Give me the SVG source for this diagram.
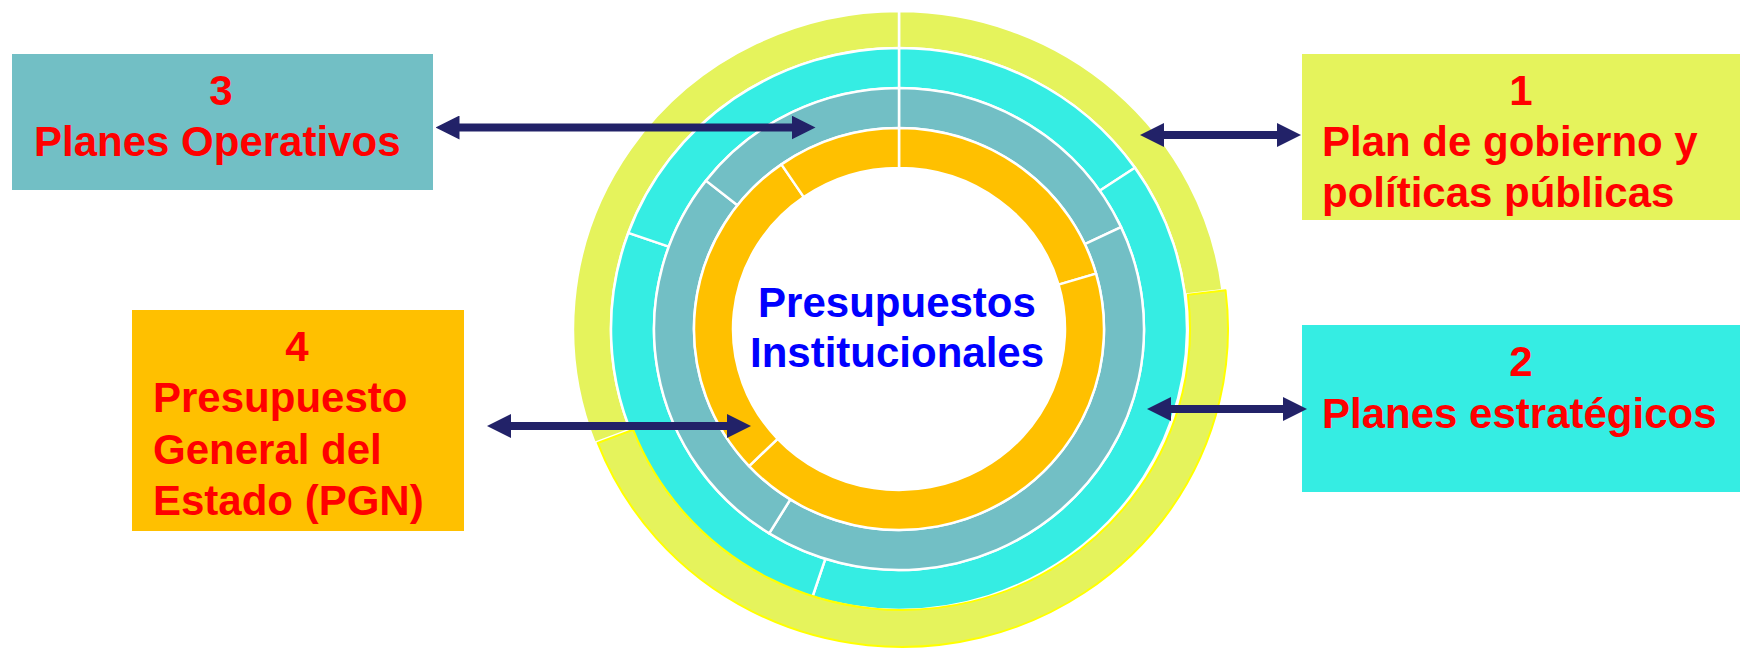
<svg xmlns="http://www.w3.org/2000/svg" width="1740" height="650" viewBox="0 0 1740 650">
<defs>
<style>
.lbl{font-family:"Liberation Sans",Arial,sans-serif;font-weight:bold;font-size:42px;fill:#FF0000}
.ctr{font-family:"Liberation Sans",Arial,sans-serif;font-weight:bold;font-size:42px;fill:#0000FF;text-anchor:middle}
.mid{text-anchor:middle}
.seg{stroke:#FFFFFF;stroke-width:2.5;stroke-linejoin:round}
.y{fill:#E5F35C}
.c{fill:#35EDE3}
.t{fill:#72BFC5}
.o{fill:#FFC000}
.conn{stroke:#222268;stroke-width:8;fill:none;marker-start:url(#ah);marker-end:url(#ah)}
</style>
<marker id="ah" viewBox="0 0 24 24" markerWidth="24" markerHeight="24" markerUnits="userSpaceOnUse" refX="3" refY="12" orient="auto-start-reverse">
<path d="M0,0 L24,12 L0,24 Z" fill="#222268"/>
</marker>
</defs>
<rect width="1740" height="650" fill="#FFFFFF"/>

<g id="rings">
<path class="seg y" d="M899,11 A326,318 0 0 1 1222.57,290.25 L1184.85,294.75 A288,281 0 0 0 899,48 Z"/>
<path class="seg y" d="M594.65,442.96 A326,318 0 0 1 899,11 L899,48 A288,281 0 0 0 630.13,429.70 Z"/>
<path class="seg c" d="M899,48 A288,281 0 0 1 1134.92,167.82 L1099.69,190.77 A245,241 0 0 0 899,88 Z"/>
<path class="seg c" d="M1134.92,167.82 A288,281 0 0 1 812.40,597.00 L825.33,558.85 A245,241 0 0 0 1099.69,190.77 Z"/>
<path class="seg c" d="M812.40,597.00 A288,281 0 0 1 628.37,232.89 L668.78,246.57 A245,241 0 0 0 825.33,558.85 Z"/>
<path class="seg c" d="M628.37,232.89 A288,281 0 0 1 899,48 L899,88 A245,241 0 0 0 668.78,246.57 Z"/>
<path class="seg t" d="M899,88 A245,241 0 0 1 1121.05,227.15 L1084.79,244.05 A205,201 0 0 0 899,128 Z"/>
<path class="seg t" d="M1121.05,227.15 A245,241 0 0 1 769.17,533.38 L790.37,499.46 A205,201 0 0 0 1084.79,244.05 Z"/>
<path class="seg t" d="M769.17,533.38 A245,241 0 0 1 705.94,180.63 L737.46,205.25 A205,201 0 0 0 790.37,499.46 Z"/>
<path class="seg t" d="M705.94,180.63 A245,241 0 0 1 899,88 L899,128 A205,201 0 0 0 737.46,205.25 Z"/>
<path class="seg o" d="M899,128 A205,201 0 0 1 1096.06,273.60 L1058.57,284.62 A166,161 0 0 0 899,168 Z"/>
<path class="seg o" d="M1096.06,273.60 A205,201 0 0 1 749.07,466.08 L777.60,438.80 A166,161 0 0 0 1058.57,284.62 Z"/>
<path class="seg o" d="M749.07,466.08 A205,201 0 0 1 781.42,164.35 L803.79,197.12 A166,161 0 0 0 777.60,438.80 Z"/>
<path class="seg o" d="M781.42,164.35 A205,201 0 0 1 899,128 L899,168 A166,161 0 0 0 803.79,197.12 Z"/>
<path class="y" stroke="#FFFF00" stroke-width="2" stroke-linejoin="round" transform="translate(3,0)" d="M1222.57,290.25 A326,318 0 0 1 594.65,442.96 L630.13,429.70 A288,281 0 0 0 1184.85,294.75 Z"/>
</g>

<g id="center">
<text class="ctr" x="897" y="317">Presupuestos</text>
<text class="ctr" x="897" y="367">Institucionales</text>
</g>

<g id="node1">
<rect x="1302" y="54" width="438" height="166" fill="#E5F35C"/>
<text class="lbl mid" x="1521" y="105">1</text>
<text class="lbl" x="1322" y="156">Plan de gobierno y</text>
<text class="lbl" x="1322" y="207">políticas públicas</text>
</g>

<g id="node2">
<rect x="1302" y="325" width="438" height="167" fill="#35EDE3"/>
<text class="lbl mid" x="1521" y="376">2</text>
<text class="lbl" x="1322" y="428">Planes estratégicos</text>
</g>

<g id="node3">
<rect x="12" y="54" width="421" height="136" fill="#72BFC5"/>
<text class="lbl mid" x="221" y="105">3</text>
<text class="lbl" x="34" y="156">Planes Operativos</text>
</g>

<g id="node4">
<rect x="132" y="310" width="332" height="221" fill="#FFC000"/>
<text class="lbl mid" x="297" y="361">4</text>
<text class="lbl" x="153" y="412">Presupuesto</text>
<text class="lbl" x="153" y="464">General del</text>
<text class="lbl" x="153" y="515">Estado (PGN)</text>
</g>

<g id="connectors">
<line class="conn" x1="456.5" y1="127.5" x2="794.5" y2="127.5"/>
<line class="conn" x1="508" y1="426" x2="730" y2="426"/>
<line class="conn" x1="1161" y1="135" x2="1280" y2="135"/>
<line class="conn" x1="1168" y1="409" x2="1286" y2="409"/>
</g>
</svg>
